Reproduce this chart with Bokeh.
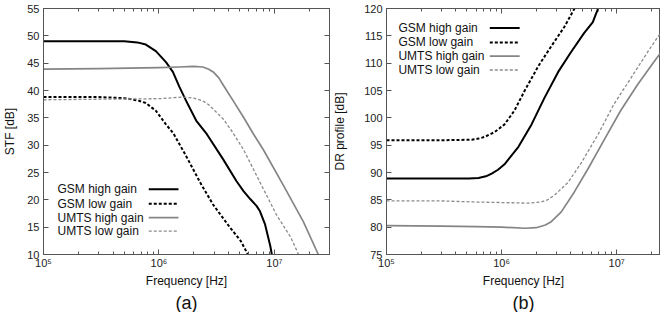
import math
from bokeh.plotting import figure
from bokeh.models import (Range1d, LogAxis, LinearAxis, FixedTicker, LogTicker,
                          Title, CustomJSTickFormatter)
from bokeh.layouts import row
from bokeh.embed import file_html
from bokeh.resources import INLINE
from bokeh.core.properties import value

FONT = "Liberation Sans"

# ---------------- data ----------------
series_labels = ["GSM high gain", "GSM low gain", "UMTS high gain", "UMTS low gain"]

# (a) STF [dB]
stf_gsm_hi_f = [1e5, 2e5, 3e5, 5e5, 6.5e5, 7.7e5, 9.4e5, 1.15e6, 1.32e6, 1.5e6, 1.72e6,
                2.1e6, 2.6e6, 3.6e6, 4.7e6, 5.4e6, 6.2e6, 7.0e6, 7.5e6, 8.3e6, 9.2e6, 9.5e6]
stf_gsm_hi_v = [49.0, 49.0, 49.0, 49.0, 48.8, 48.4, 47.2, 45.2, 43.4, 40.7, 38.1,
                34.5, 32.0, 27.4, 23.4, 21.6, 20.1, 18.9, 17.9, 15.5, 11.6, 10.0]
stf_gsm_lo_f = [1e5, 2e5, 3e5, 5e5, 6.5e5, 7.7e5, 9.4e5, 1.15e6, 1.33e6, 1.72e6, 2.27e6,
                2.95e6, 4.1e6, 5.1e6, 5.9e6]
stf_gsm_lo_v = [38.8, 38.8, 38.8, 38.6, 38.2, 37.7, 36.3, 33.8, 32.2, 28.0, 23.2,
                19.1, 15.0, 12.5, 10.0]
stf_umts_hi_f = [1e5, 3e5, 1e6, 1.5e6, 2e6, 2.4e6, 2.7e6, 2.95e6, 3.3e6, 3.6e6, 4.4e6,
                 5.4e6, 6.6e6, 8e6, 1.2e7, 1.78e7, 2.4e7]
stf_umts_hi_v = [43.9, 44.0, 44.2, 44.3, 44.4, 44.3, 43.9, 43.4, 42.3, 41.0, 38.1,
                 35.1, 32.0, 29.2, 22.6, 16.0, 10.0]
stf_umts_lo_f = [1e5, 3e5, 1e6, 1.62e6, 2e6, 2.4e6, 2.7e6, 2.95e6, 3.6e6, 4.3e6, 5.4e6,
                 7.5e6, 1.04e7, 1.38e7, 1.62e7]
stf_umts_lo_v = [38.3, 38.4, 38.5, 38.8, 38.6, 38.1, 37.4, 36.6, 34.8, 32.5, 29.2,
                 23.2, 17.3, 13.2, 10.0]

# (b) DR profile [dB]
dr_gsm_hi_f = [1e5, 3e5, 5.2e5, 6.3e5, 7.3e5, 8.2e5, 9.3e5, 1.06e6, 1.4e6, 1.82e6,
               2.35e6, 3.1e6, 4e6, 5.2e6, 6.2e6, 6.6e6, 6.9e6]
dr_gsm_hi_v = [88.9, 88.9, 88.9, 89.0, 89.3, 89.8, 90.5, 91.5, 94.7, 98.8,
               103.6, 108.4, 112.0, 115.5, 117.5, 119.0, 120.0]
dr_gsm_lo_f = [1e5, 3e5, 5.5e5, 6.3e5, 7.1e5, 8.7e5, 1.06e6, 1.29e6, 1.58e6, 2.09e6,
               2.7e6, 3.5e6, 4.3e6]
dr_gsm_lo_v = [95.9, 95.9, 96.0, 96.2, 96.5, 97.4, 98.8, 101.3, 104.9, 109.5,
               113.1, 116.6, 120.0]
dr_umts_hi_f = [1e5, 3e5, 6e5, 1e6, 1.6e6, 2.0e6, 2.4e6, 2.7e6, 3.3e6, 4.27e6, 5.6e6,
                7.8e6, 1.08e7, 1.51e7, 2.1e7, 2.8e7]
dr_umts_hi_v = [80.3, 80.2, 80.1, 80.0, 79.8, 79.9, 80.4, 81.0, 82.8, 86.4, 90.6,
                96.0, 101.3, 106.0, 110.2, 113.8]
dr_umts_lo_f = [1e5, 3e5, 6e5, 1e6, 1.7e6, 2.2e6, 2.5e6, 2.86e6, 3.78e6, 4.9e6, 6.9e6,
                9.4e6, 1.32e7, 1.85e7, 2.4e7, 2.8e7]
dr_umts_lo_v = [84.8, 84.8, 84.6, 84.5, 84.4, 84.6, 85.0, 85.8, 88.2, 91.7, 97.0,
                102.4, 107.2, 112.0, 115.5, 118.0]

x_tick_labels = {100000: "10\u2075", 1000000: "10\u2076", 10000000: "10\u2077"}
stf_ticks = [10, 15, 20, 25, 30, 35, 40, 45, 50, 55]
dr_ticks = [75, 80, 85, 90, 95, 100, 105, 110, 115, 120]

# ---------------- styles ----------------
colors = ["#000000", "#000000", "#858585", "#8a8a8a"]
widths = [2.0, 2.0, 1.7, 1.3]
dashes = ["solid", "3 2", "solid", "3 2"]
FRAME = "#555555"


def frac_x(p, f):
    a, b = math.log10(p.x_range.start), math.log10(p.x_range.end)
    return 10 ** (a + f * (b - a))


def frac_y(p, f):
    return p.y_range.start + f * (p.y_range.end - p.y_range.start)


def make_fig(width, xr, yr, yticks, ylabel, letter, min_left, min_right, label_standoff):
    p = figure(width=width, height=312, x_axis_type="log",
               x_range=Range1d(*xr), y_range=Range1d(*yr),
               output_backend="svg", toolbar_location=None,
               min_border_left=min_left, min_border_right=min_right,
               min_border_top=8, min_border_bottom=0,
               background_fill_color="white", border_fill_color="white")
    p.grid.visible = False
    p.outline_line_color = FRAME
    p.outline_line_width = 1

    xa = p.xaxis[0]
    xa.ticker = LogTicker(num_minor_ticks=10)
    xa.major_label_overrides = x_tick_labels
    xa.axis_label = "Frequency [Hz]"
    ya = p.yaxis[0]
    ya.ticker = FixedTicker(ticks=yticks, minor_ticks=[])
    ya.axis_label = ylabel
    for ax in (xa, ya):
        ax.axis_line_color = FRAME
        ax.major_tick_in = 5
        ax.major_tick_out = 0
        ax.minor_tick_in = 3
        ax.minor_tick_out = 0
        ax.major_tick_line_color = FRAME
        ax.minor_tick_line_color = FRAME
        ax.major_label_text_font = FONT
        ax.major_label_text_font_size = "11px"
        ax.major_label_text_color = "#222222"
        ax.major_label_standoff = 4
        ax.axis_label_text_font = FONT
        ax.axis_label_text_font_size = "12px"
        ax.axis_label_text_font_style = "normal"
        ax.axis_label_text_color = "#111111"
    xa.major_label_standoff = 2
    xa.axis_label_standoff = 2
    ya.axis_label_standoff = label_standoff

    t = Title(text=letter, align="center", text_font=FONT, text_font_size="18px",
              text_font_style="normal", text_color="#111111", standoff=0, offset=0)
    p.add_layout(t, "below")

    empty = CustomJSTickFormatter(code="return ''")
    top = LogAxis(ticker=LogTicker(num_minor_ticks=10), formatter=empty,
                  major_tick_in=5, major_tick_out=0, minor_tick_in=3, minor_tick_out=0,
                  major_tick_line_color=FRAME, minor_tick_line_color=FRAME,
                  axis_line_color=FRAME, major_label_standoff=0,
                  major_label_text_font_size="0px")
    p.add_layout(top, "above")
    return p


def draw(p, fs, vs, legend_text_fx, legend_line_fx, legend_rows_fy):
    for i, (f, v) in enumerate(zip(fs, vs)):
        p.line(f, v, line_color=colors[i], line_width=widths[i], line_dash=dashes[i],
               line_join="round")
    for i, lab in enumerate(series_labels):
        yy = frac_y(p, legend_rows_fy[i])
        p.text(x=[frac_x(p, legend_text_fx)], y=[yy], text=[lab],
               text_font=value(FONT), text_font_size="12px", text_color="#111111",
               text_baseline="middle", text_align="left")
        p.line([frac_x(p, legend_line_fx[0]), frac_x(p, legend_line_fx[1])], [yy, yy],
               line_color=colors[i], line_width=widths[i], line_dash=dashes[i])


pa = make_fig(330, (1e5, 3e7), (10, 55), stf_ticks, "STF [dB]", "(a)", 41, 1, 7)
right = LinearAxis(ticker=FixedTicker(ticks=stf_ticks, minor_ticks=[]),
                   formatter=CustomJSTickFormatter(code="return ''"),
                   major_tick_in=5, major_tick_out=0, major_tick_line_color=FRAME,
                   axis_line_color=FRAME, major_label_standoff=0,
                   major_label_text_font_size="0px")
pa.add_layout(right, "right")
draw(pa, [stf_gsm_hi_f, stf_gsm_lo_f, stf_umts_hi_f, stf_umts_lo_f],
     [stf_gsm_hi_v, stf_gsm_lo_v, stf_umts_hi_v, stf_umts_lo_v],
     0.049, (0.368, 0.472), [0.265, 0.206, 0.150, 0.095])

pb = make_fig(330, (1e5, 2.4e7), (75, 120), dr_ticks, "DR profile [dB]", "(b)", 54, 0, 14)
draw(pb, [dr_gsm_hi_f, dr_gsm_lo_f, dr_umts_hi_f, dr_umts_lo_f],
     [dr_gsm_hi_v, dr_gsm_lo_v, dr_umts_hi_v, dr_umts_lo_v],
     0.0435, (0.377, 0.486), [0.921, 0.862, 0.806, 0.750])

layout = row(pa, pb, spacing=0)
open("out.html", "w").write(file_html(layout, INLINE))
